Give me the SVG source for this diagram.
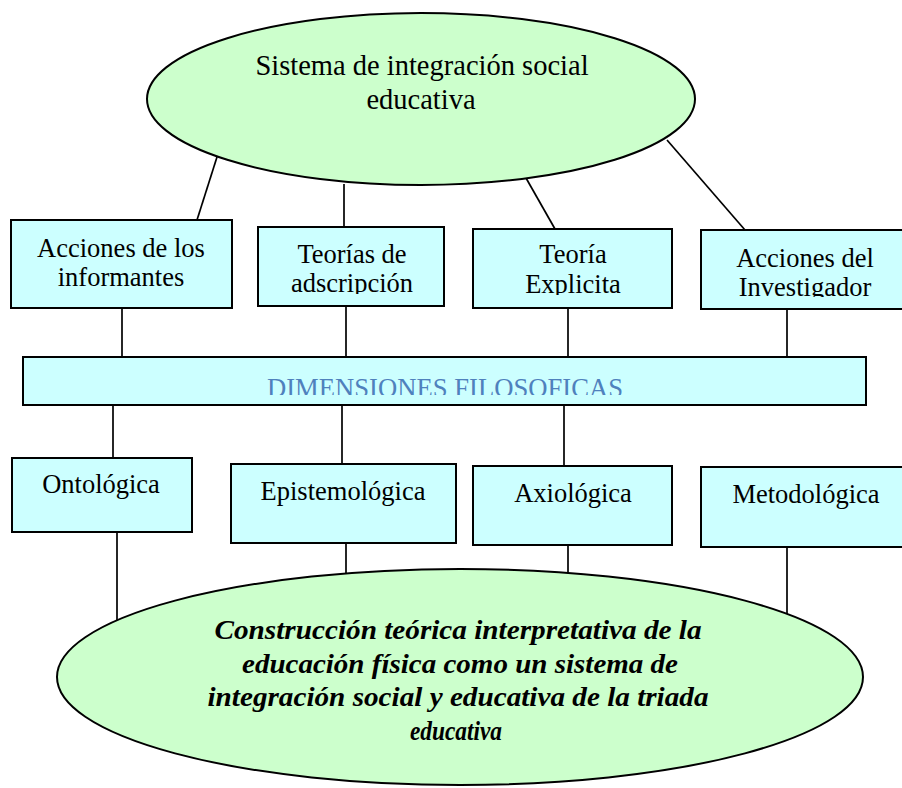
<svg xmlns="http://www.w3.org/2000/svg" width="902" height="788" viewBox="0 0 902 788">
<style>
.ell{fill:#CCFFCC;stroke:#000;stroke-width:2}
.box{fill:#CCFFFF;stroke:#000;stroke-width:2}
.ln{stroke:#000;stroke-width:1.7;fill:none}
.t{font-family:"Liberation Serif","Times New Roman",serif;font-size:26.5px;fill:#000;text-anchor:middle}
.tt{font-family:"Liberation Serif","Times New Roman",serif;font-size:28.5px;fill:#000;text-anchor:middle}
.bi{font-family:"Liberation Serif","Times New Roman",serif;font-size:28px;font-weight:bold;font-style:italic;fill:#000;text-anchor:middle}
.dim{font-family:"Liberation Serif","Times New Roman",serif;font-size:28px;fill:#4F81BD}
</style>
<defs>
<clipPath id="cB"><rect x="258" y="227" width="186" height="67"/></clipPath>
<clipPath id="cC"><rect x="473" y="229" width="199" height="66"/></clipPath>
<clipPath id="cD"><rect x="701" y="230" width="210" height="67"/></clipPath>
<clipPath id="cDim"><rect x="23" y="357" width="843" height="38"/></clipPath>
</defs>
<rect width="902" height="788" fill="#fff"/>
<g id="connectors">
<line class="ln" x1="217" y1="157" x2="197" y2="220"/>
<line class="ln" x1="344" y1="184" x2="344" y2="227"/>
<line class="ln" x1="526" y1="178" x2="555" y2="229"/>
<line class="ln" x1="667" y1="140" x2="745" y2="230"/>
<line class="ln" x1="122" y1="308" x2="122" y2="357"/>
<line class="ln" x1="346" y1="306" x2="346" y2="357"/>
<line class="ln" x1="568" y1="308" x2="568" y2="357"/>
<line class="ln" x1="787" y1="309" x2="787" y2="357"/>
<line class="ln" x1="113" y1="405" x2="113" y2="458"/>
<line class="ln" x1="342" y1="405" x2="342" y2="464"/>
<line class="ln" x1="564" y1="405" x2="564" y2="466"/>
<line class="ln" x1="117" y1="532" x2="117" y2="622"/>
<line class="ln" x1="346" y1="543" x2="346" y2="575"/>
<line class="ln" x1="568" y1="545" x2="568" y2="574"/>
<line class="ln" x1="787" y1="547" x2="787" y2="615"/>
</g>
<g id="top">
<ellipse class="ell" cx="421" cy="99" rx="274" ry="86"/>
<text class="tt" x="422" y="75">Sistema de integración social</text>
<text class="tt" x="421" y="109">educativa</text>
</g>
<g id="acciones-informantes">
<rect class="box" x="11" y="220" width="221" height="88"/>
<text class="t" x="121" y="257">Acciones de los</text>
<text class="t" x="121" y="286">informantes</text>
</g>
<g id="teorias-adscripcion">
<rect class="box" x="258" y="227" width="186" height="79"/>
<g clip-path="url(#cB)">
<text class="t" x="352" y="263">Teorías de</text>
<text class="t" x="352" y="292">adscripción</text>
</g>
</g>
<g id="teoria-explicita">
<rect class="box" x="473" y="229" width="199" height="79"/>
<g clip-path="url(#cC)">
<text class="t" x="573" y="263">Teoría</text>
<text class="t" x="573" y="293">Explicita</text>
</g>
</g>
<g id="acciones-investigador">
<rect class="box" x="701" y="230" width="210" height="79"/>
<g clip-path="url(#cD)">
<text class="t" x="805" y="267">Acciones del</text>
<text class="t" x="805" y="296">Investigador</text>
</g>
</g>
<g id="dimensiones">
<rect class="box" x="23" y="357" width="843" height="48"/>
<g clip-path="url(#cDim)">
<text class="dim" x="267" y="397" textLength="356" lengthAdjust="spacingAndGlyphs">DIMENSIONES FILOSOFICAS</text>
</g>
</g>
<g id="ontologica">
<rect class="box" x="12" y="458" width="180" height="74"/>
<text class="t" x="101" y="493">Ontológica</text>
</g>
<g id="epistemologica">
<rect class="box" x="231" y="464" width="225" height="79"/>
<text class="t" x="343" y="500">Epistemológica</text>
</g>
<g id="axiologica">
<rect class="box" x="473" y="466" width="199" height="79"/>
<text class="t" x="573" y="502">Axiológica</text>
</g>
<g id="metodologica">
<rect class="box" x="701" y="467" width="210" height="80"/>
<text class="t" x="806" y="503">Metodológica</text>
</g>
<g id="bottom">
<ellipse class="ell" cx="460" cy="677" rx="403" ry="108"/>
<text class="bi" x="458" y="639" textLength="487" lengthAdjust="spacingAndGlyphs">Construcción teórica interpretativa de la</text>
<text class="bi" x="460" y="673" textLength="436" lengthAdjust="spacingAndGlyphs">educación física como un sistema de</text>
<text class="bi" x="458" y="706" textLength="501" lengthAdjust="spacingAndGlyphs">integración social y educativa de la triada</text>
<text class="bi" x="456" y="740" textLength="92" lengthAdjust="spacingAndGlyphs">educativa</text>
</g>
</svg>
